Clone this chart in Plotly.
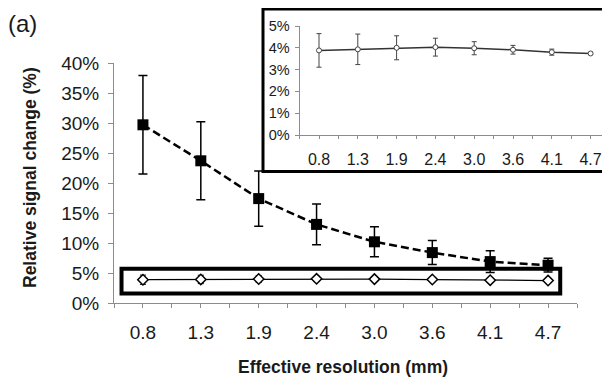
import plotly.graph_objects as go

# ---- data ----
resolution = ["0.8", "1.3", "1.9", "2.4", "3.0", "3.6", "4.1", "4.7"]
signal_change = [29.7, 23.7, 17.4, 13.1, 10.2, 8.4, 6.9, 6.3]
signal_err = [8.2, 6.5, 4.6, 3.4, 2.5, 2.0, 1.8, 1.15]
noise_change = [3.88, 3.93, 4.0, 4.03, 3.98, 3.91, 3.8, 3.74]
noise_err = [0.77, 0.70, 0.55, 0.41, 0.30, 0.20, 0.14, 0.05]
main_yticks = [0, 5, 10, 15, 20, 25, 30, 35, 40]
inset_yticks = [0, 1, 2, 3, 4, 5]

# page body has an 8px margin; figure fills the rest of the 610x383 window
OFF = 8
W, H = 610 - OFF, 383 - OFF
xi = list(range(len(resolution)))
half_ticks = [i * 0.5 - 0.5 for i in range(2 * len(resolution) + 1)]
half_text = [resolution[int(v)] if float(v).is_integer() else "" for v in half_ticks]

def px(x):
    return (x - OFF) / W

def py(y):
    return 1 - (y - OFF) / H

FONT = "Liberation Sans, Arial, sans-serif"
fig = go.Figure()

fig.add_trace(go.Scatter(
    x=xi, y=signal_change, mode="lines+markers",
    line=dict(color="black", width=2.5, dash="8px,4px"),
    marker=dict(symbol="square", size=11, color="black"),
    error_y=dict(type="data", array=signal_err, color="black", thickness=1.5, width=4.5),
    xaxis="x", yaxis="y", showlegend=False))
fig.add_trace(go.Scatter(
    x=xi, y=noise_change, mode="lines+markers",
    line=dict(color="black", width=1.3),
    marker=dict(symbol="diamond", size=8, color="white", line=dict(color="black", width=1.5)),
    error_y=dict(type="data", array=noise_err, color="black", thickness=1, width=3),
    xaxis="x", yaxis="y", showlegend=False))
fig.add_trace(go.Scatter(x=[0], y=[0], mode="markers", marker=dict(opacity=0),
                         xaxis="x2", yaxis="y2", showlegend=False, hoverinfo="skip"))
fig.add_trace(go.Scatter(
    x=xi, y=noise_change, mode="lines+markers",
    line=dict(color="#333333", width=1.5),
    marker=dict(symbol="circle", size=5, color="white", line=dict(color="#444444", width=1)),
    error_y=dict(type="data", array=noise_err, color="#444444", thickness=1, width=2.5),
    xaxis="x3", yaxis="y3", showlegend=False))

axis_line = "#8c8c8c"
common = dict(showline=True, linecolor=axis_line, linewidth=1, showgrid=False,
              zeroline=False, ticks="outside", tickcolor=axis_line, automargin=False)
fig.update_layout(
    template="none",
    width=W, height=H, margin=dict(l=0, r=0, t=0, b=0, pad=0, autoexpand=False),
    paper_bgcolor="white", plot_bgcolor="white",
    font=dict(family=FONT, color="#1a1a1a"),
    xaxis=dict(domain=[px(114), px(577)], range=[-0.5, 7.5], tickmode="array",
               tickvals=half_ticks, ticktext=half_text, ticklen=4,
               tickfont=dict(size=19), ticklabelstandoff=8, anchor="y", **common),
    yaxis=dict(domain=[py(303), py(63)], range=[0, 40], tickmode="array",
               tickvals=main_yticks, ticktext=[f"{v}%" for v in main_yticks],
               ticklen=5, tickfont=dict(size=19), ticklabelstandoff=5,
               anchor="x", **common),
    xaxis2=dict(domain=[px(263), 1.0], range=[0, 1], visible=False, anchor="y2"),
    yaxis2=dict(domain=[py(171.5), py(9)], range=[0, 1], visible=False, anchor="x2"),
    xaxis3=dict(domain=[px(299.6), 1.0], range=[-0.5, 7.5], tickmode="array",
                tickvals=half_ticks, ticktext=half_text, ticklen=3,
                tickfont=dict(size=16), ticklabelstandoff=7, anchor="y3", **common),
    yaxis3=dict(domain=[py(135), py(26)], range=[0, 5], tickmode="array",
                tickvals=inset_yticks, ticktext=[f"{v}%" for v in inset_yticks],
                ticklen=4, tickfont=dict(size=14.5), ticklabelstandoff=2,
                anchor="x3", **common),
    shapes=[
        dict(type="rect", xref="paper", yref="paper", x0=px(263), x1=1.02,
             y0=py(171.5), y1=py(9), line=dict(color="black", width=3),
             fillcolor="rgba(0,0,0,0)", layer="above"),
        dict(type="rect", xref="x", yref="y", x0=-0.37, x1=7.21, y0=1.6, y1=5.7,
             line=dict(color="black", width=4), fillcolor="rgba(0,0,0,0)", layer="above"),
    ],
    annotations=[
        dict(text="(a)", x=px(6), y=py(24), xref="paper", yref="paper",
             xanchor="left", yanchor="middle", showarrow=False,
             font=dict(size=24, color="#1a1a1a")),
        dict(text="<b>Relative signal change (%)</b>", x=px(30), y=py(178),
             xref="paper", yref="paper", textangle=-90, showarrow=False,
             xanchor="center", yanchor="middle", font=dict(size=17.5, color="#1a1a1a")),
        dict(text="<b>Effective resolution (mm)</b>", x=px(343), y=py(367),
             xref="paper", yref="paper", showarrow=False,
             xanchor="center", yanchor="middle", font=dict(size=17.5, color="#1a1a1a")),
    ],
)

fig.write_html("out.html")
